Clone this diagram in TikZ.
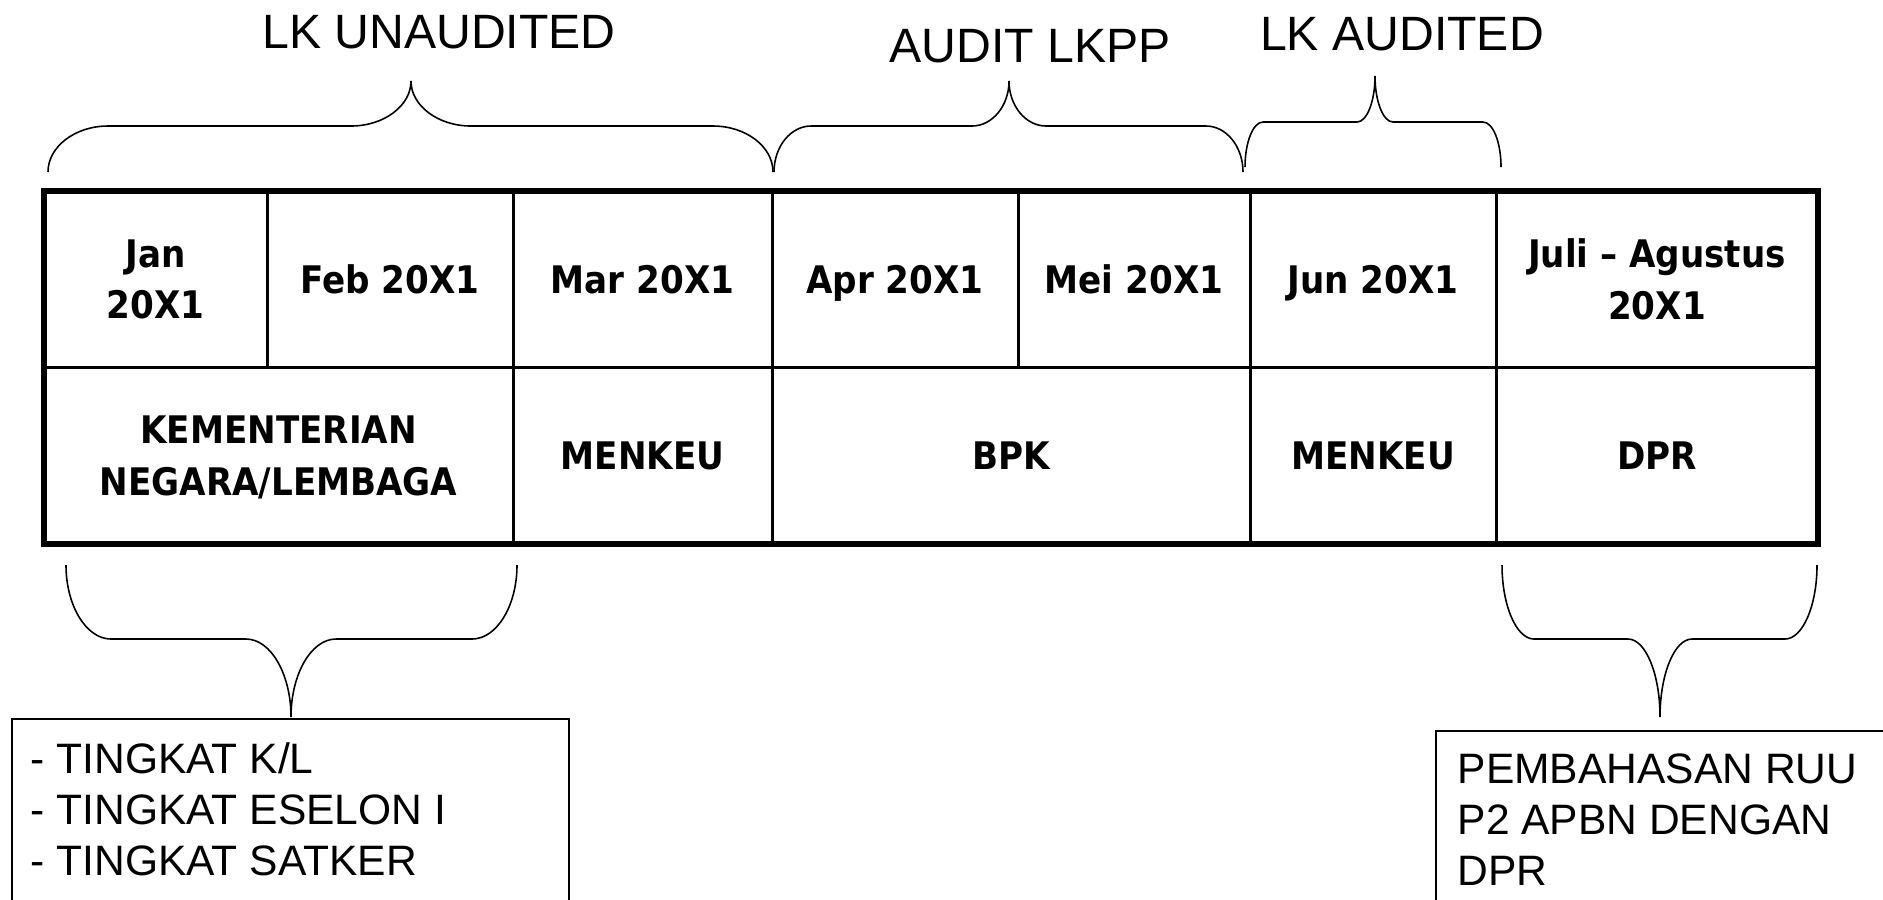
\documentclass[tikz,border=0pt]{standalone}
\usepackage{fontspec}
\setmainfont{Liberation Sans}
\newfontfamily\cellfont{DejaVu Sans Condensed}

\begin{document}
\begin{tikzpicture}[x=0.01cm,y=-0.01cm,
			cell node/.style={draw,line width=0.85pt,inner sep=0pt,outer sep=0pt,align=center,text depth=0pt,
				font=\cellfont\bfseries\fontsize{10.8}{14.7}\selectfont},
			frame line/.style={line width=1.7pt},
			brace line/.style={line width=0.45pt},
			phase node/.style={anchor=base,inner sep=0pt,font=\fontsize{13.7}{16}\selectfont},
			note node/.style={anchor=north west,inner sep=0pt,align=left,font=\fontsize{12.1}{14.5}\selectfont},
			note box/.style={line width=0.55pt}
			]
			
			\useasboundingbox (0,0) rectangle (1883,899);
			\clip (0,0) rectangle (1883,899);
			\fill[white] (0,0) rectangle (1883,899);
			
			% months and who works on them
			\foreach \nm/\xa/\xb/\ya/\yb/\txt in {jan/44/267/191/367/{Jan\\20X1},
				feb/267/513/191/367/{Feb 20X1}, mar/513/772/191/367/{Mar 20X1},
				apr/772/1018/191/367/{Apr 20X1}, mei/1018/1250/191/367/{Mei 20X1},
				jun/1250/1496/191/367/{Jun 20X1}, jul/1496/1818/191/367/{Juli – Agustus\\20X1},
				kl/44/513/367/544/{KEMENTERIAN\\NEGARA/LEMBAGA}, menkeu/513/772/367/544/{MENKEU},
				bpk/772/1250/367/544/{BPK}, menkeuaudit/1250/1496/367/544/{MENKEU},
				dpr/1496/1818/367/544/{DPR}} {
				\node[cell node, minimum width={(\xb-\xa)*0.01cm}, minimum height={(\yb-\ya)*0.01cm}]
					(\nm) at ({(\xa+\xb)/2},{(\ya+\yb)/2}) {\txt};
			}
			\draw[frame line] (jan.north west) rectangle (dpr.south east);
			
			% braces: left, right, tip x, end y, flat y, tip y, curve width
			\foreach \a/\b/\c/\ye/\ym/\yt/\w in {48/773/411/172/126/81/60, 774/1243/1009/172/126/81/37,
				1245/1501/1375/167/122/76/18, 66/517/291/565/639/717/45, 1502/1817/1660/565/639/717/32} {
				\draw[brace line] (\a,\ye) .. controls (\a,{\ye+0.55*(\ym-\ye)}) and ({\a+0.45*\w},\ym) .. ({\a+\w},\ym)
					-- ({\c-\w},\ym) .. controls ({\c-0.45*\w},\ym) and (\c,{\yt+0.55*(\ym-\yt)}) .. (\c,\yt)
					.. controls (\c,{\yt+0.55*(\ym-\yt)}) and ({\c+0.45*\w},\ym) .. ({\c+\w},\ym)
					-- ({\b-\w},\ym) .. controls ({\b-0.45*\w},\ym) and (\b,{\ye+0.55*(\ym-\ye)}) .. (\b,\ye);
			}
			
			\node[phase node] (unaudited) at (439,48) {LK UNAUDITED};
			\node[phase node] (auditlkpp) at (1030,62) {AUDIT LKPP};
			\node[phase node] (audited) at (1402,50) {LK AUDITED};
			
			\draw[note box] (12,719) rectangle (569,960);
			\node[note node] (tingkat) at (30,742) {- TINGKAT K/L\\- TINGKAT ESELON I\\- TINGKAT SATKER};
			
			\draw[note box] (1436,731) rectangle (1920,960);
			\node[note node] (pembahasan) at (1457,753) {PEMBAHASAN RUU\\P2 APBN DENGAN\\DPR};
			\end{tikzpicture}
\end{document}
